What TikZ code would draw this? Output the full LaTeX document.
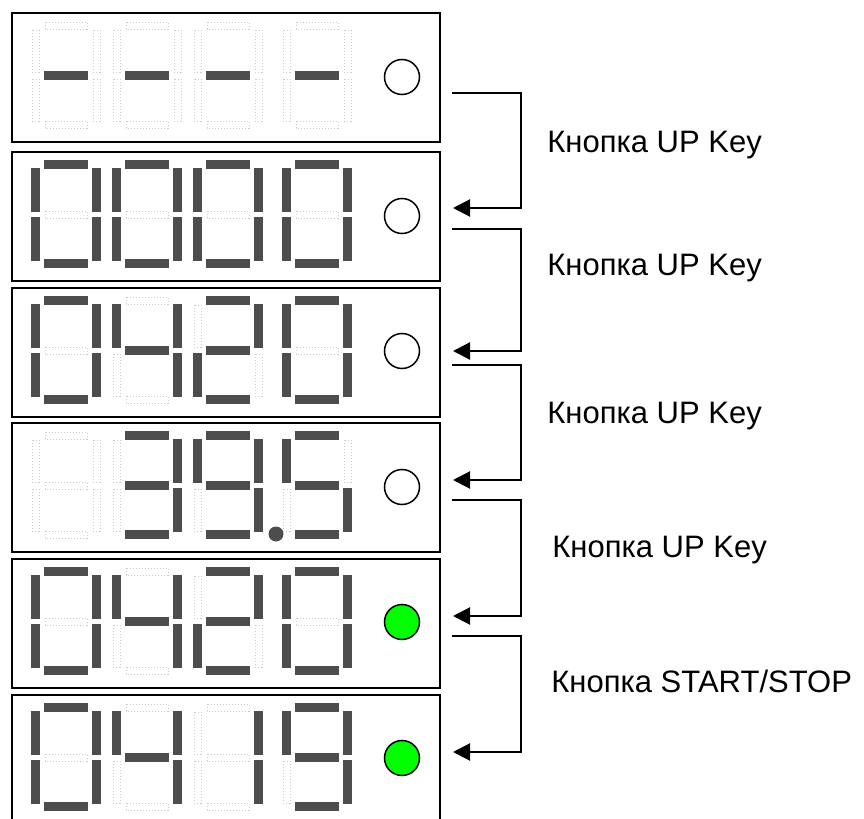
\documentclass[tikz,border=0pt]{standalone}
\usepackage{fontspec}
\usetikzlibrary{arrows.meta,shapes}
\newfontfamily\keyfont{Liberation Sans}
\definecolor{segdark}{RGB}{77,77,77}
\definecolor{lampgreen}{RGB}{0,255,0}

% segments of one digit: top, upper right, lower right, bottom, lower left, upper left, middle
\def\segA{13/10/55/17}
\def\segB{61/18/68/60}
\def\segC{61/67/68/109}
\def\segD{13/109/55/116}
\def\segE{0/67/7/109}
\def\segF{0/18/7/60}
\def\segG{13/60/55/67}
\edef\segall{\segA,\segB,\segC,\segD,\segE,\segF,\segG}
\edef\glyphdash{\segG}
\edef\glyphzero{\segA,\segB,\segC,\segD,\segE,\segF}
\edef\glyphone{\segB,\segC}
\edef\glyphtwo{\segA,\segB,\segG,\segE,\segD}
\edef\glyphthree{\segA,\segB,\segG,\segC,\segD}
\edef\glyphfour{\segF,\segG,\segB,\segC}
\edef\glyphfive{\segA,\segF,\segG,\segC,\segD}
\edef\glyphnine{\segA,\segB,\segC,\segD,\segF,\segG}

\tikzset{
  panel/.style={draw, line width=1pt, minimum width=214pt, minimum height=64.5pt,
    inner sep=0pt, anchor=north west},
  segoff/.style={draw=black!20, densely dotted, line width=0.5pt},
  segon/.style={fill=segdark, draw=segdark, line width=0.7pt},
  lamp/.style={circle, draw, line width=0.75pt, minimum size=17.5pt, inner sep=0pt},
  dp/.style={circle, fill=segdark, minimum size=7.5pt, inner sep=0pt},
  keylabel/.style={font=\keyfont\fontsize{15.5}{18}\selectfont, anchor=base west, inner sep=0pt},
  keyarrow/.style={line width=1.1pt, -{Triangle[length=8.5pt,width=8.5pt]}}
}

\newcommand\litdigit[3]{%
  \foreach \xa/\ya/\xb/\yb in #3
    \draw[segon, shift={(#1,#2)}] (\xa,\ya) rectangle (\xb,\yb);
}

\begin{document}
\begin{tikzpicture}[x=0.5pt,y=-0.5pt]
\useasboundingbox (0,0) rectangle (864,819);

% display panels
\node[panel] (p1) at (11,12) {};
\node[panel] (p2) at (11,151) {};
\node[panel] (p3) at (11,287) {};
\node[panel] (p4) at (11,422) {};
\node[panel] (p5) at (11,558) {};
\node[panel] (p6) at (11,694) {};

% unlit segments
\foreach \py in {12,151,287,422,558,694}
  \foreach \dx in {32,113,194,283}
    \foreach \xa/\ya/\xb/\yb in \segall
      \draw[segoff, shift={(\dx,\py)}] (\xa,\ya) rectangle (\xb,\yb);

% lit segments
\litdigit{32}{12}{\glyphdash}
\litdigit{113}{12}{\glyphdash}
\litdigit{194}{12}{\glyphdash}
\litdigit{283}{12}{\glyphdash}

\litdigit{32}{151}{\glyphzero}
\litdigit{113}{151}{\glyphzero}
\litdigit{194}{151}{\glyphzero}
\litdigit{283}{151}{\glyphzero}

\litdigit{32}{287}{\glyphzero}
\litdigit{113}{287}{\glyphfour}
\litdigit{194}{287}{\glyphtwo}
\litdigit{283}{287}{\glyphzero}

\litdigit{113}{422}{\glyphthree}
\litdigit{194}{422}{\glyphnine}
\litdigit{283}{422}{\glyphfive}
\node[dp] (dp4) at (276,534) {};

\litdigit{32}{558}{\glyphzero}
\litdigit{113}{558}{\glyphfour}
\litdigit{194}{558}{\glyphtwo}
\litdigit{283}{558}{\glyphzero}

\litdigit{32}{694}{\glyphzero}
\litdigit{113}{694}{\glyphfour}
\litdigit{194}{694}{\glyphone}
\litdigit{283}{694}{\glyphnine}

% lamps
\node[lamp] (l1) at (402,77) {};
\node[lamp] (l2) at (402,216) {};
\node[lamp] (l3) at (402,351) {};
\node[lamp] (l4) at (402,487) {};
\node[lamp, fill=lampgreen] (l5) at (402,622) {};
\node[lamp, fill=lampgreen] (l6) at (402,758) {};

% key presses
\foreach \n/\ys/\ye in {1/93/208,2/229/351,3/365/480,4/500/616,5/636/752} {
  \coordinate (out\n) at (452,\ys);
  \coordinate (in\n) at (453,\ye);
  \draw[keyarrow] (out\n) -- ++(69,0) |- (in\n);
}

\node[keylabel] (k1) at (547,152) {Кнопка UP Key};
\node[keylabel] (k2) at (547,275) {Кнопка UP Key};
\node[keylabel] (k3) at (547,423) {Кнопка UP Key};
\node[keylabel] (k4) at (552,557) {Кнопка UP Key};
\node[keylabel] (k5) at (551,692) {Кнопка START/STOP};
\end{tikzpicture}
\end{document}
